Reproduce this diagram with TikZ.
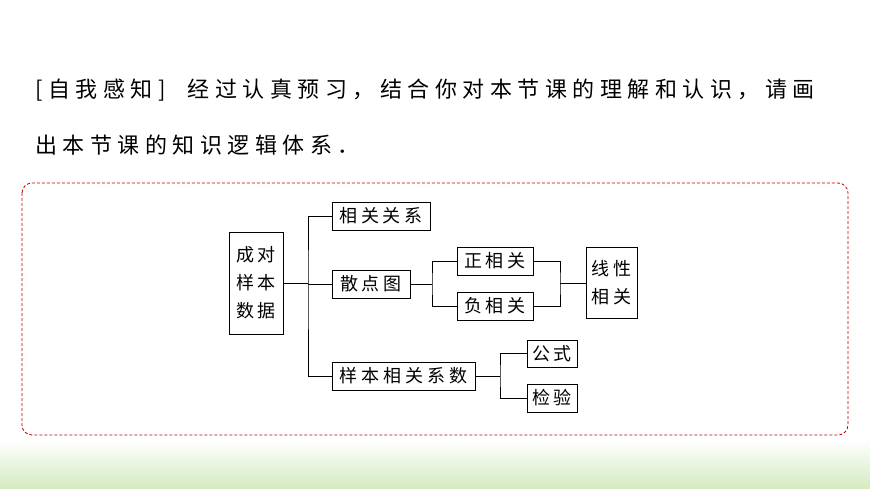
\documentclass[tikz,border=0pt]{standalone}
\usepackage{fontspec}
\setmainfont{Noto Sans CJK SC}
\newfontfamily\hdrfont[LetterSpace=25]{Noto Sans CJK SC}
\newfontfamily\boxfont[LetterSpace=22]{Noto Sans CJK SC}
\tikzset{every picture/.style={line width=0.75pt}}
\tikzset{
  box/.style={draw, rectangle, inner sep=0pt, font=\boxfont\fontsize{18}{24}\selectfont, align=center},
  link/.style={draw, line width=0.8pt}
}
\begin{document}
\begin{tikzpicture}[x=1pt,y=1pt,yscale=-1,xscale=1]
        \useasboundingbox (0,0) rectangle (870,489);
        \fill[white] (0,0) rectangle (870,489);
        %Shape: green band
        \shade[top color=white, bottom color=green!35!olive!25] (0,440) rectangle (870,489);

        % Text Node
        \node (hdr1) [anchor=west, inner sep=0pt, font=\hdrfont\fontsize{22}{28}\selectfont] at (35,90) {[自我感知]\hspace{22pt}经过认真预习，结合你对本节课的理解和认识，请画};
        \node (hdr2) [anchor=west, inner sep=0pt, font=\hdrfont\fontsize{22}{28}\selectfont] at (35,145) {出本节课的知识逻辑体系．};

        %Shape: dashed frame
        \draw [red!75!black, dash pattern=on 3pt off 2pt, rounded corners=10pt, line width=0.8pt] (22,183) rectangle (848,435);

        % Boxes
        \node (pair) [box, minimum width=54pt, minimum height=102pt] at (256,283) {成对\\[4pt]样本\\[4pt]数据};
        \node (rel) [box, minimum width=98pt, minimum height=28pt] at (381,216) {相关关系};
        \node (scat) [box, minimum width=78pt, minimum height=28pt] at (371,284) {散点图};
        \node (coef) [box, minimum width=143pt, minimum height=28pt] at (403.5,376) {样本相关系数};
        \node (pos) [box, minimum width=76pt, minimum height=28pt] at (495,261) {正相关};
        \node (neg) [box, minimum width=76pt, minimum height=28pt] at (495,306) {负相关};
        \node (lin) [box, minimum width=51pt, minimum height=71pt] at (611.5,283) {线性\\[4pt]相关};
        \node (form) [box, minimum width=50pt, minimum height=27pt] at (552,353.5) {公式};
        \node (test) [box, minimum width=50pt, minimum height=28pt] at (552,398) {检验};

        % Connectors
        \coordinate (j1) at (308,283);
        \draw [link] (pair.east) -- (j1);
        \draw [link] (rel.west) -| (j1) |- (coef.west);
        \draw [link] (j1 |- scat.west) -- (scat.west);
        \coordinate (j2) at (432,284);
        \draw [link] (scat.east) -- (j2);
        \draw [link] (pos.west) -| (j2) |- (neg.west);
        \coordinate (j3) at (560,283);
        \draw [link] (pos.east) -| (j3) |- (neg.east);
        \draw [link] (j3) -- (lin.west);
        \coordinate (j4) at (500,376);
        \draw [link] (coef.east) -- (j4);
        \draw [link] (form.west) -| (j4) |- (test.west);
\end{tikzpicture}
\end{document}
